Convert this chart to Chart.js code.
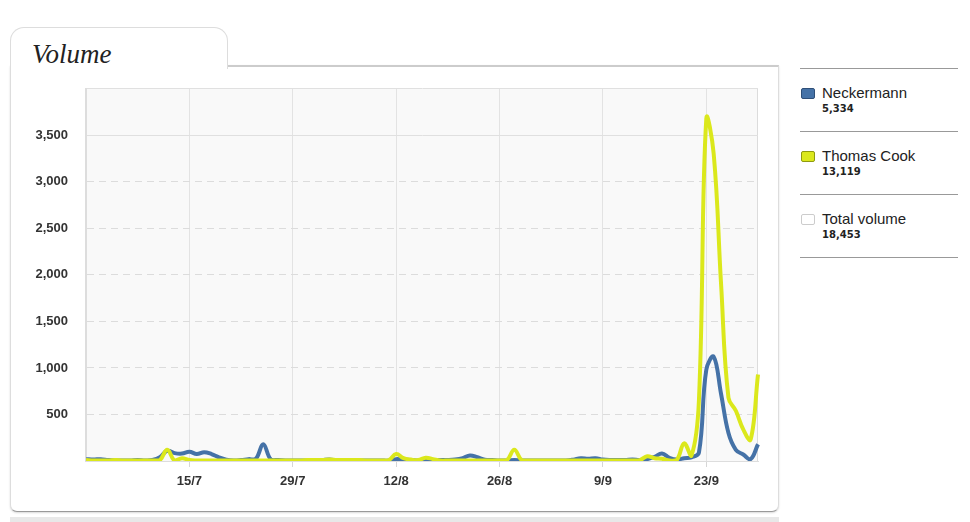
<!DOCTYPE html>
<html>
<head>
<meta charset="utf-8">
<script src="https://cdn.jsdelivr.net/npm/chart.js@4/dist/chart.umd.min.js"></script>
<style>
  body { margin: 0; width: 970px; height: 522px; background: #fff; position: relative; overflow: hidden; font-family: "Liberation Sans", Arial, sans-serif; }
  .card { position: absolute; left: 10px; top: 65px; width: 767px; height: 444px; border: 1px solid #ddd; border-top: 2px solid #ccc; border-bottom: 1px solid #999; border-radius: 0 0 7px 7px; box-shadow: 0 1px 2px rgba(0,0,0,0.15); background: #fff; }
  .tab { position: absolute; left: 10px; top: 27px; width: 216px; height: 41px; border: 1px solid #ddd; border-bottom: none; border-radius: 14px 14px 0 0; background: #fff; }
  .tab h1 { margin: 0; position: absolute; left: 21px; top: 11px; font: italic 27px "Liberation Serif", serif; color: #222; font-weight: normal; }
  .next { position: absolute; left: 10px; top: 517px; width: 769px; height: 6px; background: #e8e8e8; }
  #wrap { position: absolute; left: 20px; top: 63px; width: 748px; height: 437px; }
  .legend { position: absolute; left: 800px; top: 68px; width: 158px; }
  .legend .item { height: 62px; border-top: 1px solid #999; position: relative; }
  .legend .item:last-child { height: 0; }
  .legend .box { position: absolute; left: 1px; top: 19px; width: 12px; height: 9px; border: 1px solid #555; border-radius: 2px; }
  .legend .name { position: absolute; left: 22px; top: 15px; font-size: 15px; color: #222; }
  .legend .val { position: absolute; left: 22px; top: 34px; font: bold 10px "DejaVu Sans", sans-serif; color: #222; }
</style>
</head>
<body>
<div class="card"></div>
<div class="tab"><h1>Volume</h1></div>
<div class="next"></div>
<div id="wrap"><canvas id="volumeChart"></canvas></div>
<div class="legend" id="legend"></div>

<script>
// daily categories, 1 July - 30 September
const days = [
  '1/7','2/7','3/7','4/7','5/7','6/7','7/7','8/7','9/7','10/7','11/7','12/7','13/7','14/7','15/7','16/7',
  '17/7','18/7','19/7','20/7','21/7','22/7','23/7','24/7','25/7','26/7','27/7','28/7','29/7','30/7','31/7',
  '1/8','2/8','3/8','4/8','5/8','6/8','7/8','8/8','9/8','10/8','11/8','12/8','13/8','14/8','15/8','16/8',
  '17/8','18/8','19/8','20/8','21/8','22/8','23/8','24/8','25/8','26/8','27/8','28/8','29/8','30/8','31/8',
  '1/9','2/9','3/9','4/9','5/9','6/9','7/9','8/9','9/9','10/9','11/9','12/9','13/9','14/9','15/9','16/9',
  '17/9','18/9','19/9','20/9','21/9','22/9','23/9','24/9','25/9','26/9','27/9','28/9','29/9','30/9'
];
const tickLabels = ['15/7', '29/7', '12/8', '26/8', '9/9', '23/9'];

// rows follow the rows of days above
const neckermann = [
  20, 15, 20, 10, 5, 5, 5, 10, 5, 10, 40, 110, 85, 80, 100, 75,
  95, 75, 40, 15, 5, 10, 20, 25, 180, 20, 10, 5, 5, 5, 5,
  5, 10, 15, 5, 5, 5, 5, 5, 5, 5, 5, 20, 15, 10, 5, 5,
  10, 10, 10, 15, 30, 60, 40, 15, 10, 5, 5, 10, 5, 5, 5,
  5, 5, 5, 5, 15, 30, 25, 30, 15, 10, 10, 10, 15, 10, 20, 45,
  80, 35, 15, 30, 40, 90, 980, 1120, 720, 300, 120, 70, 20, 180
];
const thomasCook = [
  10, 5, 5, 5, 10, 5, 5, 5, 5, 5, 10, 120, 5, 30, 10, 5,
  5, 5, 5, 5, 5, 5, 5, 5, 5, 5, 5, 5, 5, 5, 10,
  10, 10, 15, 10, 10, 10, 10, 5, 5, 5, 10, 75, 30, 15, 10, 35,
  20, 5, 5, 5, 5, 5, 5, 5, 5, 5, 10, 120, 10, 5, 5,
  5, 5, 5, 5, 5, 5, 5, 5, 5, 5, 5, 5, 5, 10, 50, 30,
  25, 5, 10, 190, 60, 650, 3680, 3300, 1900, 680, 540, 340, 230, 930
];

const seriesNames = ['Neckermann', 'Thomas Cook', 'Total volume'];
const seriesTotals = ['5,334', '13,119', '18,453'];
const seriesColors = ['#4572a7', '#dbe81c', '#ffffff'];
const boxBorders = ['#2f4f78', '#8f9a10', '#ccc'];

// legend on the right
const legend = document.getElementById('legend');
legend.innerHTML = seriesNames.map((name, i) => `
  <div class="item">
    <div class="box" style="background:${seriesColors[i]};border-color:${boxBorders[i]}"></div>
    <div class="name">${name}</div>
    <div class="val">${seriesTotals[i]}</div>
  </div>`).join('') + '<div class="item"></div>';

// plot background and right border
const plotBg = {
  id: 'plotBg',
  beforeDraw(chart) {
    const { ctx, chartArea: a } = chart;
    ctx.save();
    ctx.fillStyle = '#f9f9f9';
    ctx.fillRect(a.left, a.top, a.right - a.left, a.bottom - a.top);
    ctx.strokeStyle = '#dcdcdc';
    ctx.lineWidth = 1;
    ctx.beginPath();
    ctx.moveTo(a.right - 0.5, a.top);
    ctx.lineTo(a.right - 0.5, a.bottom);
    ctx.stroke();
    ctx.restore();
  }
};

const isTick = i => tickLabels.includes(days[i]);
const axisFont = { family: '"Liberation Sans", Arial, sans-serif', size: 13, weight: 'bold' };

new Chart(document.getElementById('volumeChart'), {
  type: 'line',
  data: {
    labels: days,
    datasets: [
      { label: seriesNames[0], data: neckermann, borderColor: seriesColors[0], order: 1 },
      { label: seriesNames[1], data: thomasCook, borderColor: seriesColors[1], order: 0 }
    ]
  },
  options: {
    responsive: true,
    maintainAspectRatio: false,
    animation: false,
    layout: { padding: { top: 8, right: 10, left: 0, bottom: 0 } },
    elements: {
      line: { borderWidth: 4, tension: 0.4, fill: false },
      point: { radius: 0 }
    },
    plugins: { legend: { display: false }, tooltip: { enabled: false } },
    scales: {
      x: {
        afterFit: s => { s.height = 39; },
        grid: {
          color: c => (isTick(c.index) ? '#e3e3e3' : 'transparent'),
          tickColor: c => (isTick(c.index) ? '#d6d6d6' : 'transparent'),
          tickLength: 6,
          lineWidth: 1
        },
        border: { color: '#ddd', width: 1 },
        ticks: {
          autoSkip: false,
          maxRotation: 0,
          padding: 7,
          color: '#333',
          font: axisFont,
          callback: (v, i) => (isTick(i) ? days[i] : '')
        }
      },
      y: {
        min: 0,
        max: 4000,
        afterFit: s => { s.width = 66; },
        grid: {
          color: c => (c.tick && c.tick.value >= 3500 ? '#e0e0e0' : '#dcdcdc'),
          drawTicks: false
        },
        border: {
          color: '#ddd',
          width: 2,
          dash: c => (c.tick && c.tick.value > 0 && c.tick.value < 3500 ? [7, 5] : [])
        },
        ticks: {
          stepSize: 500,
          padding: 18,
          color: '#333',
          font: axisFont,
          callback: v => (v === 0 || v === 4000 ? '' : v.toLocaleString('en-US'))
        }
      }
    }
  },
  plugins: [plotBg]
});
</script>
</body>
</html>
